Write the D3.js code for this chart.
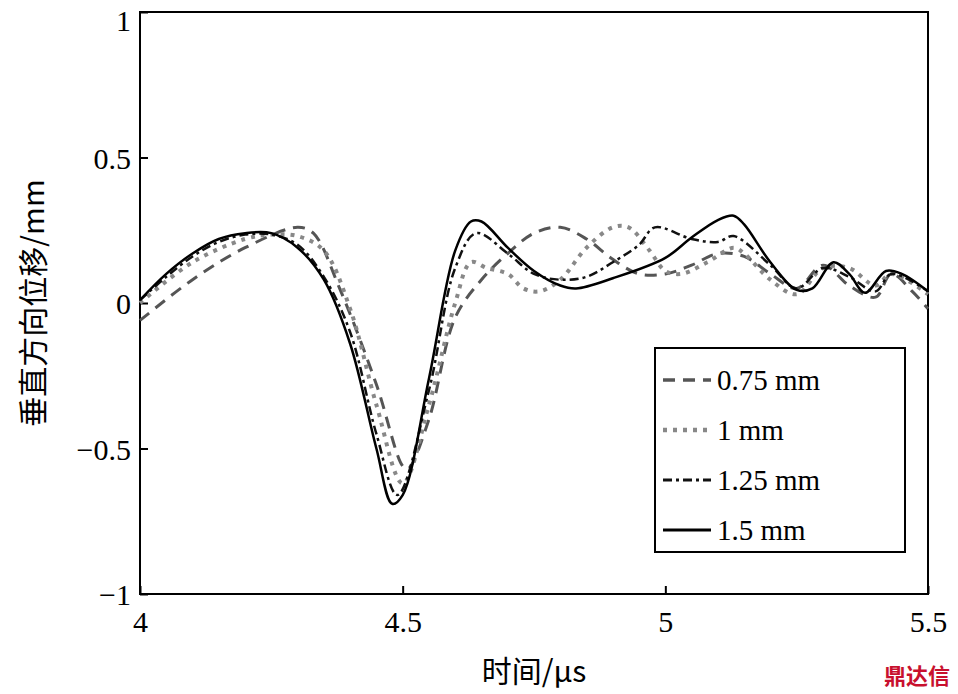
<!DOCTYPE html>
<html><head><meta charset="utf-8">
<script src="https://cdn.jsdelivr.net/npm/d3@7"></script>
<style>body{margin:0;background:#fff}</style>
</head><body><div class="canvas"></div>
<script>
// time points (μs) and displacement (mm) per series
const x075 = [4.0,4.1,4.2,4.3,4.33,4.38,4.45,4.5,4.51,4.55,4.6,4.65,4.7,4.75,4.8,4.85,4.9,4.95,5.0,5.05,5.1,5.15,5.2,5.25,5.3,5.35,5.4,5.43,5.47,5.5]
const y075 = [-0.06,0.08,0.19,0.26,0.24,0.05,-0.28,-0.56,-0.57,-0.4,-0.05,0.08,0.17,0.24,0.26,0.22,0.15,0.1,0.1,0.13,0.17,0.16,0.1,0.05,0.13,0.06,0.02,0.1,0.04,-0.02]
const x1 = [4.0,4.1,4.2,4.25,4.3,4.35,4.4,4.45,4.5,4.55,4.6,4.63,4.66,4.7,4.73,4.76,4.8,4.85,4.9,4.93,4.97,5.0,5.03,5.08,5.13,5.15,5.2,5.25,5.3,5.35,5.4,5.43,5.5]
const y1 = [0.0,0.14,0.22,0.235,0.23,0.18,-0.02,-0.35,-0.62,-0.35,0.0,0.14,0.12,0.1,0.05,0.04,0.08,0.19,0.26,0.26,0.18,0.11,0.1,0.14,0.19,0.17,0.08,0.03,0.12,0.12,0.06,0.1,0.03]
const x125 = [4.0,4.05,4.1,4.15,4.2,4.25,4.3,4.35,4.4,4.45,4.49,4.55,4.6,4.64,4.7,4.75,4.8,4.85,4.9,4.95,4.98,5.05,5.1,5.13,5.2,5.25,5.3,5.35,5.4,5.43,5.5]
const y125 = [0.01,0.09,0.16,0.21,0.235,0.235,0.2,0.09,-0.1,-0.45,-0.66,-0.3,0.12,0.24,0.17,0.1,0.08,0.09,0.14,0.2,0.26,0.22,0.21,0.23,0.13,0.05,0.12,0.09,0.04,0.1,0.04]
const x15 = [4.0,4.05,4.1,4.15,4.2,4.25,4.3,4.35,4.4,4.45,4.48,4.5,4.55,4.6,4.63,4.65,4.7,4.75,4.8,4.83,4.9,5.0,5.05,5.1,5.13,5.15,5.2,5.25,5.28,5.32,5.35,5.38,5.42,5.45,5.5]
const y15 = [0.01,0.1,0.17,0.22,0.24,0.24,0.19,0.08,-0.14,-0.5,-0.69,-0.66,-0.26,0.18,0.28,0.28,0.19,0.11,0.06,0.05,0.085,0.155,0.225,0.285,0.3,0.27,0.14,0.045,0.05,0.14,0.1,0.035,0.11,0.1,0.04]
const labels = ['0.75 mm','1 mm','1.25 mm','1.5 mm']
const xTicks = [4,4.5,5,5.5]
const yTicks = [-1,-0.5,0,0.5,1]

const series = [
  {name: labels[0], xs: x075, ys: y075, color: '#555', width: 3, dash: '12,8'},
  {name: labels[1], xs: x1, ys: y1, color: '#888', width: 4, dash: '4,6'},
  {name: labels[2], xs: x125, ys: y125, color: '#111', width: 2.5, dash: '9,4,3,4'},
  {name: labels[3], xs: x15, ys: y15, color: '#000', width: 2.5, dash: null}
]

const W = 958, H = 694
const m = {left: 140, right: 30, top: 12, bottom: 100}
const svg = d3.select('.canvas').append('svg').attr('width', W).attr('height', H)
  .style('font-family', '"Liberation Serif","DejaVu Serif",serif')

const x = d3.scaleLinear().domain([4, 5.5]).range([m.left, W - m.right])
const y = d3.scaleLinear().domain([-1, 1]).range([H - m.bottom, m.top])

// frame
svg.append('rect').attr('x', x(4)).attr('y', y(1))
  .attr('width', x(5.5) - x(4)).attr('height', y(-1) - y(1))
  .attr('fill', 'none').attr('stroke', '#000').attr('stroke-width', 2)

const fmt = d => d === 0 ? '0' : String(d).replace('-', '\u2212')
const xAxis = svg.append('g').attr('transform', `translate(0,${y(-1)})`)
  .call(d3.axisBottom(x).tickValues(xTicks).tickSize(-8).tickFormat(fmt))
const yAxis = svg.append('g').attr('transform', `translate(${x(4)},0)`)
  .call(d3.axisLeft(y).tickValues(yTicks).tickSize(-8).tickFormat(fmt))
;[xAxis, yAxis].forEach(a => {
  a.select('.domain').remove()
  a.selectAll('line').attr('stroke-width', 2)
  a.selectAll('text').attr('font-size', 30).attr('fill', '#000')
    .style('font-family', '"Liberation Serif",serif')
})
xAxis.selectAll('text').attr('dy', '1.15em')
yAxis.selectAll('text').attr('dx', '-0.2em').attr('dy', d => d === 1 ? '0.6em' : '0.35em')

const line = d3.line().curve(d3.curveCatmullRom.alpha(0.5))
series.forEach(s => {
  svg.append('path')
    .datum(s.xs.map((v, i) => [x(v), y(s.ys[i])]))
    .attr('fill', 'none').attr('stroke', s.color)
    .attr('stroke-width', s.width)
    .attr('stroke-dasharray', s.dash)
    .attr('d', line)
})

// legend
const lg = svg.append('g').attr('transform', 'translate(655,348)')
lg.append('rect').attr('width', 250).attr('height', 204)
  .attr('fill', '#fff').attr('stroke', '#000').attr('stroke-width', 2)
series.forEach((s, i) => {
  const yy = 32 + i * 50
  lg.append('line').attr('x1', 8).attr('x2', 56).attr('y1', yy).attr('y2', yy)
    .attr('stroke', s.color).attr('stroke-width', s.width + 0.5)
    .attr('stroke-dasharray', s.dash)
  lg.append('text').attr('x', 62).attr('y', yy + 10).attr('font-size', 29)
    .text(s.name)
})

// axis titles
svg.append('text').attr('x', x(4.75)).attr('y', 682).attr('text-anchor', 'middle')
  .attr('font-size', 30).style('font-family', '"Noto Sans CJK SC","Liberation Serif",serif')
  .text('时间/μs')
svg.append('text').attr('transform', `translate(44,${y(0)}) rotate(-90)`)
  .attr('text-anchor', 'middle').attr('font-size', 30)
  .style('font-family', '"Noto Sans CJK SC","Liberation Serif",serif')
  .text('垂直方向位移/mm')

svg.append('text').attr('x', 950).attr('y', 684).attr('text-anchor', 'end')
  .attr('font-size', 22).attr('fill', '#c8102e').attr('font-weight', 'bold')
  .style('font-family', '"Noto Sans CJK SC",sans-serif').text('鼎达信')
</script></body></html>
